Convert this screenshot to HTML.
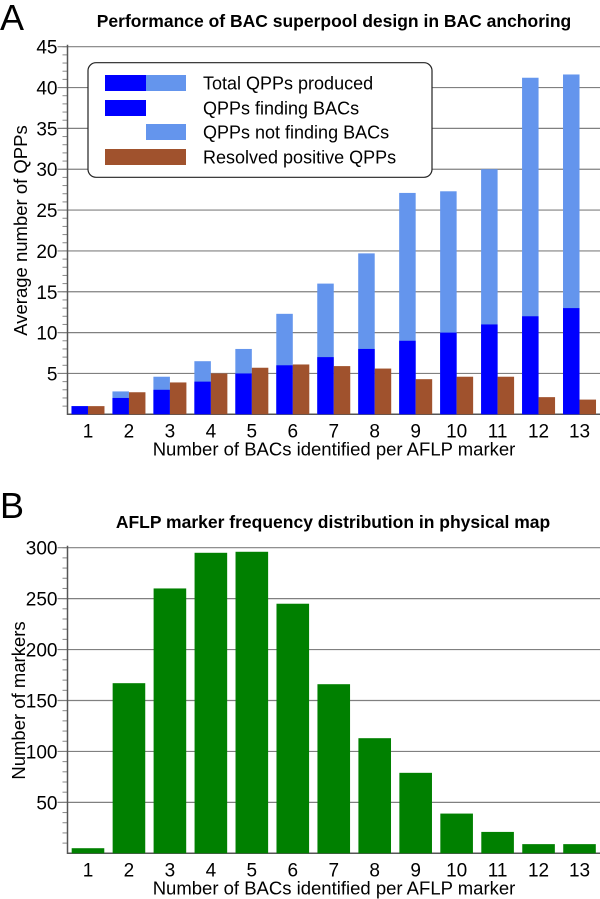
<!DOCTYPE html>
<html><head><meta charset="utf-8"><style>
body{margin:0;background:#fff;}
svg{display:block;font-family:"Liberation Sans",Arial,sans-serif;}
</style></head><body>
<svg id="s" width="600" height="899" viewBox="0 0 600 899">
<text x="0" y="30" font-size="36">A</text>
<text x="334" y="27" font-size="17.5" font-weight="bold" text-anchor="middle">Performance of BAC superpool design in BAC anchoring</text>
<text x="0" y="518" font-size="36">B</text>
<text x="333" y="528" font-size="17.5" font-weight="bold" text-anchor="middle">AFLP marker frequency distribution in physical map</text>
<g id="ga"></g>
<g id="gb"></g>
</svg>
<script>
const categories=["1","2","3","4","5","6","7","8","9","10","11","12","13"];
const finding=[1,2,3,4,5,6,7,8,9,10,11,12,13];
const total=[1,2.8,4.6,6.5,8,12.3,16,19.7,27.1,27.3,30,41.2,41.6];
const resolved=[1,2.7,3.9,5,5.7,6.1,5.9,5.6,4.3,4.6,4.6,2.1,1.8];
const ticksA=[5,10,15,20,25,30,35,40,45];
const markers=[5,167,260,295,296,245,166,113,79,39,21,9,9];
const ticksB=[50,100,150,200,250,300];
const NS="http://www.w3.org/2000/svg";
function mk(p,t,a){const e=document.createElementNS(NS,t);for(const k in a)e.setAttribute(k,a[k]);p.appendChild(e);return e;}
const X0=67.5,X1=600,band=(X1-X0)/13;
function xc(i){return X0+band*(i+0.5);}
function axes(g,y0,yTop,max,ticks,minorStep,ylabel,ylx){
  const ys=v=>y0-(y0-yTop)*v/max;
  for(let v=minorStep;v<=max;v+=minorStep){const t=mk(g,'line',{x1:X0-5,x2:X0,y1:ys(v),y2:ys(v),stroke:'#888','stroke-width':1});
    }
  ticks.forEach(v=>{const l=mk(g,'line',{x1:X0-10,x2:X1,y1:ys(v),y2:ys(v),stroke:'#808080','stroke-width':1.2});
    
    const t=mk(g,'text',{x:X0-10,y:ys(v)+7,'font-size':19,'text-anchor':'end'});t.textContent=v;
    });
  const ax=mk(g,'path',{d:`M${X0},${yTop-2}V${y0}H${X1}`,fill:'none',stroke:'#555','stroke-width':1.5});
  
  categories.forEach((c,i)=>{const t=mk(g,'text',{x:xc(i),y:y0+23,'font-size':19,'text-anchor':'middle'});t.textContent=c;
    });
  const xt=mk(g,'text',{x:334,y:y0+41,'font-size':18.5,'text-anchor':'middle'});xt.textContent='Number of BACs identified per AFLP marker';
  
  const yc=(y0+yTop)/2;
  const yt=mk(g,'text',{x:ylx,y:yc,'font-size':18.5,'text-anchor':'middle',transform:`rotate(-90 ${ylx} ${yc})`});yt.textContent=ylabel;
  
  return ys;
}
const ga=document.getElementById('ga');
const ysA=axes(ga,414.3,46.7,45,ticksA,1,'Average number of QPPs',27);
const hw=16.5;
categories.forEach((c,i)=>{
  const xl=xc(i)-hw, xr=xc(i);
  const b1=mk(ga,'rect',{x:xl,y:ysA(total[i]),width:hw,height:ysA(0)-ysA(total[i]),fill:'#6495ed'});
  
  const b2=mk(ga,'rect',{x:xl,y:ysA(finding[i]),width:hw,height:ysA(0)-ysA(finding[i]),fill:'#0000ff'});
  
  const b3=mk(ga,'rect',{x:xr,y:ysA(resolved[i]),width:hw,height:ysA(0)-ysA(resolved[i]),fill:'#a0522d'});
  
});
const lg=mk(ga,'g',{});

mk(lg,'rect',{x:88,y:62.7,width:344,height:114.6,rx:8,fill:'#fff',stroke:'#222','stroke-width':1.2});
const rows=[["Total QPPs produced",[[105,146,'#0000ff'],[146,186,'#6495ed']]],["QPPs finding BACs",[[105,146,'#0000ff']]],["QPPs not finding BACs",[[146,186,'#6495ed']]],["Resolved positive QPPs",[[105,186,'#a0522d']]]];
const rowY=[83,108,132,157];
rows.forEach((r,k)=>{
  r[1].forEach(s=>{mk(lg,'rect',{x:s[0],y:rowY[k]-8,width:s[1]-s[0],height:16,fill:s[2]});});
  const t=mk(lg,'text',{x:203,y:rowY[k]+6.5,'font-size':18});t.textContent=r[0];
  
});
const gb=document.getElementById('gb');
const ysB=axes(gb,853.3,547.7,300,ticksB,10,'Number of markers',25);
const bw=32.6;
markers.forEach((v,i)=>{
  const b=mk(gb,'rect',{x:xc(i)-bw/2,y:ysB(v),width:bw,height:ysB(0)-ysB(v),fill:'#008000'});
  
});
</script>
</body></html>
